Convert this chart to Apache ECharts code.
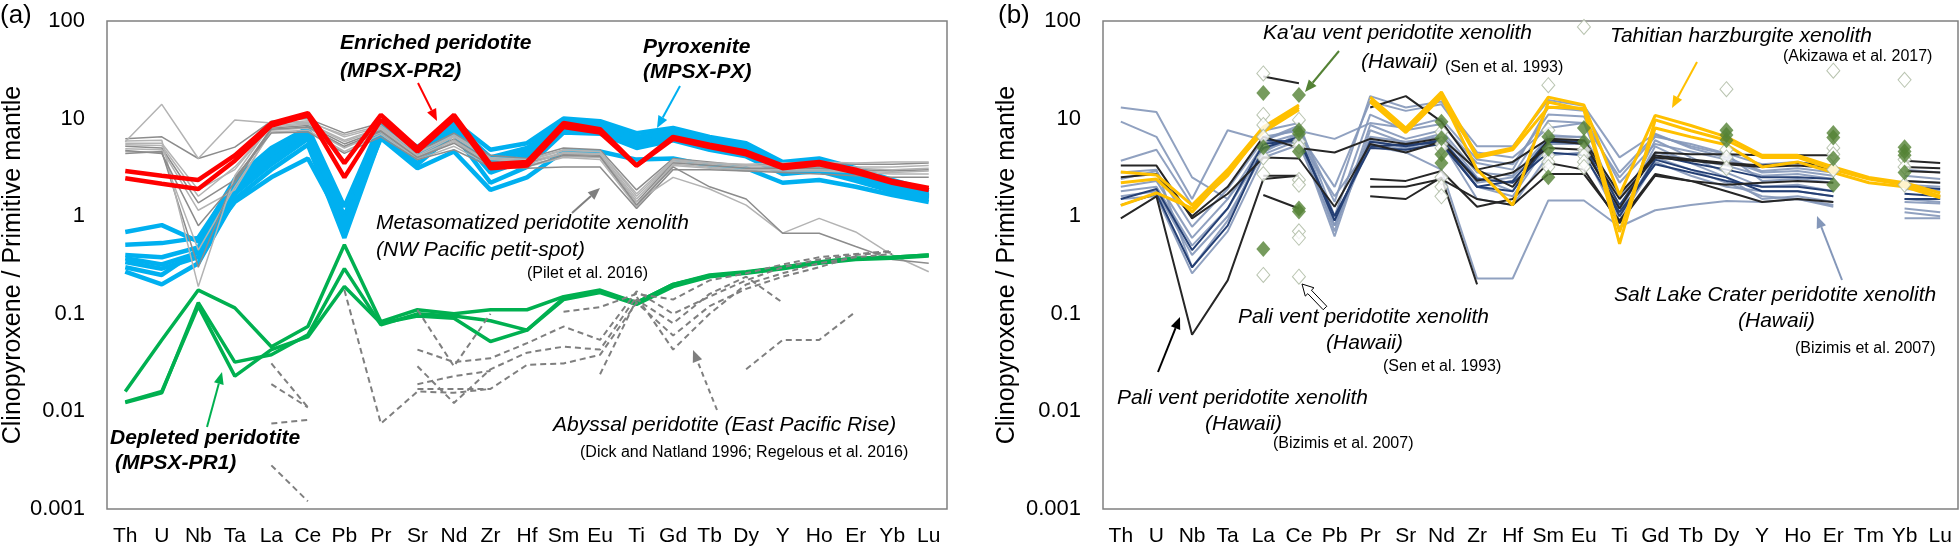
<!DOCTYPE html>
<html>
<head>
<meta charset="utf-8">
<script src="https://cdn.jsdelivr.net/npm/echarts@6/dist/echarts.min.js"></script>
<style>
html,body{margin:0;padding:0;background:#fff;}
#container{width:1960px;height:552px;}
</style>
</head>
<body>
<div id="container"></div>
<script>
var _ = null;
// element order
var elemA = ['Th','U','Nb','Ta','La','Ce','Pb','Pr','Sr','Nd','Zr','Hf','Sm','Eu','Ti','Gd','Tb','Dy','Y','Ho','Er','Yb','Lu'];
var elemB = ['Th','U','Nb','Ta','La','Ce','Pb','Pr','Sr','Nd','Zr','Hf','Sm','Eu','Ti','Gd','Tb','Dy','Y','Ho','Er','Tm','Yb','Lu'];
var yTicks = ['0.001','0.01','0.1','1','10','100'];

// ---- panel (a) ----
var enriched1 = [2.9,2.6,2.35,4.2,9.0,11.4,3.5,10.9,5.0,10.9,3.4,3.6,9.0,7.8,3.3,6.5,5.4,4.6,3.3,3.6,3.0,2.3,1.95];
var enriched2 = [2.45,2.15,1.9,3.7,8.5,10.8,2.5,9.7,4.6,10.0,3.1,3.3,8.2,7.2,3.3,6.2,5.1,4.3,3.1,3.4,2.8,2.2,1.85];

var pyrox1 = [0.69,0.81,0.55,2.4,5.0,8.0,1.25,9.0,5.1,9.4,4.8,5.6,10,9.4,7.1,8.0,6.5,5.6,3.6,3.9,3.1,2.35,1.85];
var pyrox2 = [0.51,0.53,0.6,2.2,4.6,7.5,1.0,8.5,4.6,8.8,4.0,5.0,9.2,8.8,6.5,7.4,6.0,5.2,3.4,3.6,2.9,2.2,1.75];
var pyrox3 = [0.40,0.38,0.48,2.0,4.2,7.0,0.85,8.0,4.3,8.3,3.6,4.6,8.6,8.2,6.2,7.0,5.7,4.9,3.2,3.4,2.75,2.05,1.65];
var pyrox4 = [0.37,0.32,0.42,1.8,3.8,6.6,0.75,7.6,4.0,8.0,3.2,4.2,8.2,7.8,5.8,6.6,5.4,4.6,3.0,3.2,2.6,1.95,1.6];
var pyrox5 = [0.34,0.29,0.38,1.7,3.4,6.2,0.65,7.2,3.7,7.6,2.8,3.8,7.8,7.4,5.5,6.3,5.1,4.4,2.9,3.1,2.5,1.9,1.55];
var pyrox6 = [0.27,0.2,0.33,1.5,3.0,5.4,0.6,6.6,3.4,7.0,2.2,3.2,7.2,7.0,5.0,6.0,4.8,4.1,2.7,2.9,2.3,1.8,1.5];
var pyrox7 = [0.3,0.25,0.45,1.4,2.5,3.9,0.8,6.3,3.1,4.6,1.86,2.5,4.6,4.6,3.8,3.9,3.3,3.1,2.2,2.35,2.0,1.65,1.4];

var meta1 = [6.2,6.5,3.9,5.1,9.4,10.0,7.1,9.0,4.6,7.1,4.2,3.9,5.0,4.8,1.86,3.9,3.6,3.3,3.4,3.5,3.4,3.4,3.5];
var meta2 = [5.8,14.0,3.9,9.7,9.0,9.2,6.8,8.5,4.4,6.8,4.0,3.8,4.8,4.6,1.7,3.8,3.5,3.3,3.3,3.3,3.2,3.2,3.3];
var meta3 = [5.6,5.6,1.86,3.0,8.5,9.0,6.0,8.0,4.2,6.5,3.8,3.6,4.5,4.4,1.5,3.6,3.4,3.2,3.2,3.2,3.1,3.0,3.1];
var meta4 = [5.2,5.0,1.37,2.35,8.0,8.5,5.5,7.6,4.0,6.2,3.6,3.5,4.3,4.2,1.4,3.5,3.3,3.1,3.1,3.1,3.0,2.9,3.0];
var meta5 = [4.9,4.8,1.15,1.86,7.6,8.0,5.0,7.2,3.9,5.8,3.4,3.3,4.1,4.0,1.3,3.4,3.2,3.0,3.0,3.0,2.9,2.8,2.9];
var meta6 = [4.6,4.5,0.45,2.0,7.3,7.6,4.6,6.9,3.8,5.2,3.3,3.2,4.0,3.8,1.25,3.3,3.1,2.9,2.9,2.9,2.8,2.7,2.7];
var meta7 = [4.4,4.6,0.3,2.5,7.1,7.3,4.4,6.5,3.8,4.8,3.2,3.1,3.2,3.2,1.2,3.0,3.0,2.9,2.8,2.7,2.6,2.5,2.5];
var meta8 = [5.9,6.0,0.19,2.6,8.8,9.5,6.5,8.2,4.5,6.6,3.9,3.7,4.7,4.6,1.6,3.7,3.5,3.4,3.5,3.6,3.5,3.6,3.6];
var meta9 = [5.4,5.3,1.6,3.2,8.2,8.8,5.8,7.8,4.1,6.0,3.5,3.4,4.4,4.3,1.4,2.5,1.9,1.3,0.67,0.95,0.69,0.4,0.27];
var meta10 = [4.7,4.4,0.8,2.2,7.8,8.2,5.2,7.4,4.0,5.6,3.3,3.2,4.2,4.1,1.3,3.2,2.0,1.5,0.67,0.67,0.49,0.36,0.33];

var depleted1 = [0.016,0.054,0.175,0.115,0.046,0.074,0.51,0.083,0.11,0.10,0.11,0.11,0.15,0.175,0.13,0.2,0.25,0.27,0.3,0.34,0.37,0.38,0.4];
var depleted2 = [0.0123,0.0155,0.13,0.032,0.038,0.061,0.29,0.077,0.1,0.095,0.085,0.068,0.14,0.165,0.125,0.19,0.24,0.26,0.29,0.33,0.36,0.37,0.39];
var depleted3 = [0.0125,0.016,0.12,0.023,0.043,0.058,0.19,0.08,0.095,0.09,0.052,0.068,0.145,0.17,0.13,0.2,0.245,0.265,0.3,0.34,0.37,0.38,0.4];

var abyssal1 = [_,_,_,_,0.031,0.011,_,_,_,_,_,_,_,_,_,_,_,_,_,_,_,_,_];
var abyssal2 = [_,_,_,_,0.019,0.011,_,_,_,_,_,_,_,_,_,_,_,_,_,_,_,_,_];
var abyssal3 = [_,_,_,_,0.0075,0.0082,_,_,_,_,_,_,_,_,_,_,_,_,_,_,_,_,_];
var abyssal4 = [_,_,_,_,0.0028,0.0012,_,_,_,_,_,_,_,_,_,_,_,_,_,_,_,_,_];
var abyssal5 = [_,_,_,_,_,_,0.175,0.0075,0.016,0.0155,0.017,_,_,_,_,_,_,_,_,_,_,_,_];
var abyssal6 = [_,_,_,_,_,_,_,_,0.11,0.029,0.1,_,_,_,_,_,_,_,_,_,_,_,_];
var abyssal7 = [_,_,_,_,_,_,_,_,0.043,0.032,0.035,0.05,0.074,0.054,0.17,0.1,0.15,0.22,0.3,0.36,0.4,0.43,_];
var abyssal8 = [_,_,_,_,_,_,_,_,0.029,0.0122,0.027,0.04,0.046,0.043,0.15,0.043,0.1,0.2,0.26,0.33,0.38,0.41,_];
var abyssal9 = [_,_,_,_,_,_,_,_,0.019,0.023,0.026,_,_,_,_,_,_,_,_,_,_,_,_];
var abyssal10 = [_,_,_,_,_,_,_,_,0.017,0.017,0.017,0.03,0.031,0.038,0.13,0.06,0.12,0.18,0.24,0.3,0.39,_,_];
var abyssal11 = [_,_,_,_,_,_,_,_,_,_,_,_,0.105,0.117,0.16,0.14,0.22,0.26,0.32,0.38,0.41,0.44,_];
var abyssal12 = [_,_,_,_,_,_,_,_,_,_,_,_,_,0.024,0.14,0.08,0.16,0.24,0.13,_,_,_,_];
var abyssal13 = [_,_,_,_,_,_,_,_,_,_,_,_,_,_,_,_,_,0.027,0.054,0.054,0.105,_,_];

// ---- panel (b) ----
var slc1 = [13,11.7,2.5,1.5,4.5,7.0,2.0,15,12,14,4.5,4.0,8.0,9.0,2.5,6.5,5.5,4.4,3.4,3.6,3.2,_,2.6,2.4];
var slc2 = [9.3,6.5,1.5,7.6,6.0,8.0,1.4,17,13,15,5.2,5.2,15.5,13.5,4.0,7.0,5.0,4.0,2.9,3.1,2.8,_,3.0,2.8];
var slc3 = [3.7,4.8,1.3,2.7,7.5,9.0,1.0,11,7.6,8.8,3.5,3.0,13,12,2.8,6.8,5.2,4.3,2.3,2.4,2.2,_,1.9,1.8];
var slc4 = [2.4,2.9,0.78,1.9,6.0,8.5,0.8,6.5,5.8,6.5,2.2,2.5,6.5,6.5,1.6,4.5,3.8,3.3,2.6,2.7,2.4,_,2.3,2.2];
var slc5 = [2.0,2.3,0.6,1.5,5.5,7.0,0.7,8.6,6.2,7.6,2.8,2.6,9.5,9.0,1.2,6.0,4.0,2.8,2.0,2.1,1.8,_,1.5,1.4];
var slc6 = [1.8,2.0,0.5,1.2,4.8,6.2,0.62,7.6,5.6,7.0,2.5,1.8,6.8,6.4,1.1,5.2,3.5,2.5,1.5,1.6,1.4,_,1.2,1.1];
var slc7 = [1.6,1.8,0.4,1.0,4.3,6.0,1.6,5.2,4.5,3.0,0.23,0.23,1.45,1.45,0.78,1.15,1.3,1.43,1.4,1.5,1.25,_,0.95,0.95];
var slc8 = [2.8,3.0,0.3,0.9,5.0,6.5,0.9,6.0,5.0,6.2,2.0,1.6,5.5,5.5,1.0,4.0,3.0,2.2,1.6,1.5,1.3,_,1.1,1.0];
var slc9 = [1.5,1.6,0.26,0.7,4.0,5.4,0.8,5.5,4.8,5.8,1.5,1.3,4.2,4.5,0.9,3.6,2.6,2.0,1.8,1.8,1.6,_,1.4,1.35];
var slc10 = [_,_,_,_,6.5,7.5,6.2,9.0,8.0,10,3.8,3.4,11,10.5,2.2,5.5,4.6,3.8,2.8,2.9,2.6,_,2.1,2.0];

var paliNavy1 = [1.5,1.9,0.45,1.2,5.5,6.0,1.0,5.0,4.8,5.5,2.0,1.8,5.8,5.6,1.0,3.8,3.0,2.5,1.8,1.8,1.6,_,1.5,1.5];
var paliNavy2 = [1.3,1.7,0.3,0.8,5.0,6.5,0.9,5.8,5.2,6.0,2.4,2.2,4.5,4.2,1.1,3.4,2.8,2.3,2.0,2.0,1.8,_,1.7,1.6];
var paliNavy3 = [_,_,_,_,6.0,5.8,_,5.2,5.4,5.7,2.0,2.3,6.0,5.8,1.3,4.2,3.5,3.0,2.5,2.5,2.4,_,2.0,1.9];

var pali1 = [0.95,1.6,0.061,0.22,2.4,2.6,_,2.4,2.3,2.9,1.25,1.5,3.5,3.0,0.85,2.6,2.3,2.1,2.2,2.3,2.2,_,2.3,2.2];
var pali2 = [3.3,3.3,0.95,1.7,4.0,3.9,1.25,5.5,4.5,5.8,2.3,2.8,5.0,4.8,1.2,4.5,4.3,4.3,4.2,4.2,4.2,_,3.7,3.5];
var pali3 = [2.5,2.7,1.0,2.0,6.5,5.0,4.5,6.2,5.5,6.3,3.0,3.6,6.2,6.0,1.7,4.2,3.8,3.5,3.3,3.5,3.3,_,3.2,3.1];
var pali4 = [_,_,_,_,27,23,_,13,17,9.3,3.0,2.0,6.0,5.5,1.5,4.0,3.7,3.4,3.2,3.3,3.1,_,2.9,2.8];
var pali5 = [_,_,_,_,2.6,2.6,_,2.0,2.0,2.4,1.5,1.3,2.7,2.7,0.9,2.7,2.3,1.8,1.4,1.5,1.4,_,_,_];
var pali6 = [_,_,_,_,1.65,1.2,_,1.6,1.5,2.5,0.2,_,_,_,_,_,_,_,_,_,_,_,_,_];

var tahiti1 = [2.84,2.65,1.3,3.0,8.2,13.8,_,16.6,8.0,18.7,4.2,5.0,16.6,13.8,1.65,10.8,8.5,6.5,4.2,4.2,3.2,2.5,2.2,1.73];
var tahiti2 = [2.2,2.4,1.1,2.8,7.3,12.3,_,14.8,7.2,16.6,3.0,1.3,14.8,12.3,0.52,9.7,7.5,6.0,4.0,4.0,3.0,2.4,2.1,1.6];
var tahiti3 = [1.29,1.73,1.2,2.6,7.8,13.0,_,15.5,7.6,17.5,4.0,4.8,13.1,12.8,0.69,8.0,6.5,5.4,3.2,3.6,2.8,2.2,2.0,1.54];

// Ka'au vent (filled) and Pali vent Sen (open) diamonds
var kaauPts = [['La',18.3],['La',5.1],['La',0.46],
	['Ce',17.4],['Ce',7.6],['Ce',7.0],['Ce',4.6],['Ce',1.2],['Ce',1.12],
	['Nd',9.3],['Nd',6.3],['Nd',4.3],['Nd',3.5],
	['Sm',6.5],['Sm',4.9],['Sm',2.5],
	['Eu',8.0],['Eu',5.8],
	['Dy',7.6],['Dy',6.8],['Dy',6.0],
	['Er',7.1],['Er',6.4],['Er',3.9],['Er',2.1],
	['Yb',5.1],['Yb',4.6],['Yb',4.2],['Yb',2.8]];
var senPts = [['La',29],['La',10.9],['La',8.6],['La',6.5],['La',4.0],['La',2.7],['La',0.25],
	['Ce',9.7],['Ce',5.8],['Ce',5.2],['Ce',2.35],['Ce',2.1],['Ce',0.7],['Ce',0.6],['Ce',0.24],
	['Nd',7.3],['Nd',5.5],['Nd',5.0],['Nd',2.5],['Nd',2.0],['Nd',1.6],
	['Sm',22],['Sm',7.6],['Sm',4.2],['Sm',3.6],['Sm',3.2],
	['Eu',87],['Eu',4.8],['Eu',4.2],['Eu',3.6],['Eu',3.2],
	['Dy',20],['Dy',4.8],['Dy',4.0],['Dy',3.1],
	['Er',31],['Er',5.0],['Er',4.3],['Er',3.0],
	['Yb',25],['Yb',3.8],['Yb',3.2],['Yb',2.1]];

var FONT = '"Liberation Sans", Arial, sans-serif';

function mkLine(data, color, width, gi, dashed, z) {
	return {
		type : 'line',
		xAxisIndex : gi,
		yAxisIndex : gi,
		data : data.map(function(v){ return v == null ? '-' : v; }),
		symbol : 'none',
		silent : true,
		z : z || 2,
		lineStyle : { color : color, width : width, type : dashed ? [6, 4] : 'solid' }
	};
}

function txt(x, y, s, font, align) {
	return { type : 'text', x : x, y : y, z : 100,
		style : { text : s, font : font, fill : '#000', textAlign : align || 'left', textVerticalAlign : 'middle' } };
}

// simple arrow: line + triangle head at (x2,y2)
function arrow(x1, y1, x2, y2, color, lw, dashed) {
	var dx = x2 - x1, dy = y2 - y1, len = Math.sqrt(dx*dx + dy*dy);
	var ux = dx/len, uy = dy/len, nx = -uy, ny = ux;
	var hl = 12, hw = 5;
	var bx = x2 - ux*hl, by = y2 - uy*hl;
	return { type : 'group', z : 100, children : [
		{ type : 'line', shape : { x1 : x1, y1 : y1, x2 : bx, y2 : by },
			style : { stroke : color, lineWidth : lw, lineDash : dashed ? [5, 4] : null } },
		{ type : 'polygon', shape : { points : [[x2, y2], [bx + nx*hw, by + ny*hw], [bx - nx*hw, by - ny*hw]] },
			style : { fill : color } }
	] };
}

// hollow (outlined) arrow
function hollowArrow(x1, y1, x2, y2) {
	var dx = x2 - x1, dy = y2 - y1, len = Math.sqrt(dx*dx + dy*dy);
	var ux = dx/len, uy = dy/len, nx = -uy, ny = ux;
	var hl = 11, hw = 6, sw = 2.5;
	var bx = x2 - ux*hl, by = y2 - uy*hl;
	return { type : 'polygon', z : 100,
		shape : { points : [
			[x1 + nx*sw, y1 + ny*sw], [bx + nx*sw, by + ny*sw], [bx + nx*hw, by + ny*hw], [x2, y2],
			[bx - nx*hw, by - ny*hw], [bx - nx*sw, by - ny*sw], [x1 - nx*sw, y1 - ny*sw]] },
		style : { fill : '#fff', stroke : '#000', lineWidth : 1 } };
}

function yAxisOf(gi) {
	return {
		type : 'log', logBase : 10, min : 0.001, max : 100, gridIndex : gi,
		axisLine : { show : false }, axisTick : { show : false }, splitLine : { show : false },
		axisLabel : { fontSize : 22, color : '#000', margin : 22, fontFamily : FONT,
			formatter : function(v){ return yTicks[Math.round(Math.log10(v)) + 3]; } }
	};
}
function xAxisOf(gi, cats) {
	return {
		type : 'category', data : cats, gridIndex : gi, boundaryGap : true,
		axisLine : { show : false }, axisTick : { show : false },
		axisLabel : { interval : 0, fontSize : 21, color : '#000', margin : 17, fontFamily : FONT }
	};
}

var series = [];
// (a)
[pyrox1, pyrox2, pyrox3, pyrox4, pyrox5, pyrox6, pyrox7].forEach(function(d){ series.push(mkLine(d, '#00b0f0', 4.5, 0, false, 2)); });
[meta1, meta2, meta3, meta4, meta5, meta6, meta7, meta8, meta9, meta10].forEach(function(d, i){
	series.push(mkLine(d, i % 3 == 0 ? '#8c8c8c' : '#b3b3b3', 1.5, 0, false, 3));
});
[enriched1, enriched2].forEach(function(d){ series.push(mkLine(d, '#ff0000', 4.5, 0, false, 4)); });
[depleted1, depleted2, depleted3].forEach(function(d){ series.push(mkLine(d, '#00b050', 3.5, 0, false, 4)); });
[abyssal1, abyssal2, abyssal3, abyssal4, abyssal5, abyssal6, abyssal7, abyssal8, abyssal9, abyssal10,
	abyssal11, abyssal12, abyssal13].forEach(function(d){ series.push(mkLine(d, '#7f7f7f', 2, 0, true, 5)); });
// (b)
[slc1, slc2, slc3, slc4, slc5, slc6, slc7, slc8, slc9, slc10].forEach(function(d){ series.push(mkLine(d, 'rgba(132,151,185,0.9)', 2, 1, false, 2)); });
[paliNavy1, paliNavy2, paliNavy3].forEach(function(d){ series.push(mkLine(d, '#243f74', 2, 1, false, 3)); });
[pali1, pali2, pali3, pali4, pali5, pali6].forEach(function(d){ series.push(mkLine(d, '#262626', 2, 1, false, 3)); });
[tahiti1, tahiti2, tahiti3].forEach(function(d){ series.push(mkLine(d, '#ffc000', 3, 1, false, 4)); });
series.push({ type : 'scatter', xAxisIndex : 1, yAxisIndex : 1, symbol : 'diamond', symbolSize : [13, 15], data : senPts, z : 6, silent : true,
	itemStyle : { color : '#fff', borderColor : '#a7b59c', borderWidth : 1 } });
series.push({ type : 'scatter', xAxisIndex : 1, yAxisIndex : 1, symbol : 'diamond', symbolSize : [14, 16], data : kaauPts, z : 7, silent : true,
	itemStyle : { color : '#548235' } });

var IT = 'italic 21px ' + FONT, BI = 'italic bold 21px ' + FONT, SM = '16px ' + FONT;
var graphic = [
	txt(0, 16, '(a)', '26px ' + FONT), txt(998, 16, '(b)', '26px ' + FONT),
	{ type : 'text', x : 13, y : 265, rotation : Math.PI/2, z : 100,
		style : { text : 'Clinopyroxene / Primitive mantle', font : '25px ' + FONT, fill : '#000', textAlign : 'center', textVerticalAlign : 'middle' } },
	{ type : 'text', x : 1007, y : 265, rotation : Math.PI/2, z : 100,
		style : { text : 'Clinopyroxene / Primitive mantle', font : '25px ' + FONT, fill : '#000', textAlign : 'center', textVerticalAlign : 'middle' } },
	// (a) notes
	txt(340, 43, 'Enriched peridotite', BI), txt(340, 71, '(MPSX-PR2)', BI),
	arrow(418, 83, 437, 121, '#ff0000', 2),
	txt(643, 47, 'Pyroxenite', BI), txt(643, 72, '(MPSX-PX)', BI),
	arrow(680, 86, 657, 128, '#00b0f0', 2),
	txt(376, 223, 'Metasomatized peridotite xenolith', IT), txt(376, 250, '(NW Pacific petit-spot)', IT),
	txt(527, 274, '(Pilet et al. 2016)', SM),
	arrow(572, 213, 600, 188, '#7f7f7f', 2),
	txt(110, 438, 'Depleted peridotite', BI), txt(115, 463, '(MPSX-PR1)', BI),
	arrow(207, 427, 222, 372, '#00b050', 2),
	txt(553, 425, 'Abyssal peridotite (East Pacific Rise)', IT),
	txt(580, 453, '(Dick and Natland 1996; Regelous et al. 2016)', SM),
	arrow(717, 410, 693, 350, '#7f7f7f', 2, true),
	// (b) notes
	txt(1263, 33, "Ka'au vent peridotite xenolith", IT), txt(1361, 62, '(Hawaii)', IT),
	txt(1445, 68, '(Sen et al. 1993)', SM),
	arrow(1339, 51, 1305, 92, '#548235', 2),
	txt(1610, 36, 'Tahitian harzburgite xenolith', IT), txt(1783, 57, '(Akizawa et al. 2017)', SM),
	arrow(1697, 62, 1672, 108, '#ffc000', 2),
	txt(1238, 317, 'Pali vent peridotite xenolith', IT), txt(1326, 343, '(Hawaii)', IT),
	txt(1383, 367, '(Sen et al. 1993)', SM),
	hollowArrow(1325, 308, 1302, 284),
	txt(1117, 398, 'Pali vent peridotite xenolith', IT), txt(1205, 424, '(Hawaii)', IT),
	txt(1273, 444, '(Bizimis et al. 2007)', SM),
	arrow(1158, 372, 1180, 317, '#000', 2),
	txt(1614, 295, 'Salt Lake Crater peridotite xenolith', IT), txt(1738, 321, '(Hawaii)', IT),
	txt(1795, 349, '(Bizimis et al. 2007)', SM),
	arrow(1842, 280, 1817, 216, '#8497b9', 2)
];

var myChart = echarts.init(document.getElementById('container'));
var option = {
	animation : false,
	backgroundColor : '#fff',
	textStyle : { fontFamily : FONT },
	grid : [
		{ left : 107, top : 21, width : 840, height : 488, show : true, borderColor : '#808080', borderWidth : 1.5 },
		{ left : 1103, top : 21, width : 855, height : 488, show : true, borderColor : '#808080', borderWidth : 1.5 }
	],
	xAxis : [ xAxisOf(0, elemA), xAxisOf(1, elemB) ],
	yAxis : [ yAxisOf(0), yAxisOf(1) ],
	series : series,
	graphic : graphic
};
myChart.setOption(option, true);
</script>
</body>
</html>
